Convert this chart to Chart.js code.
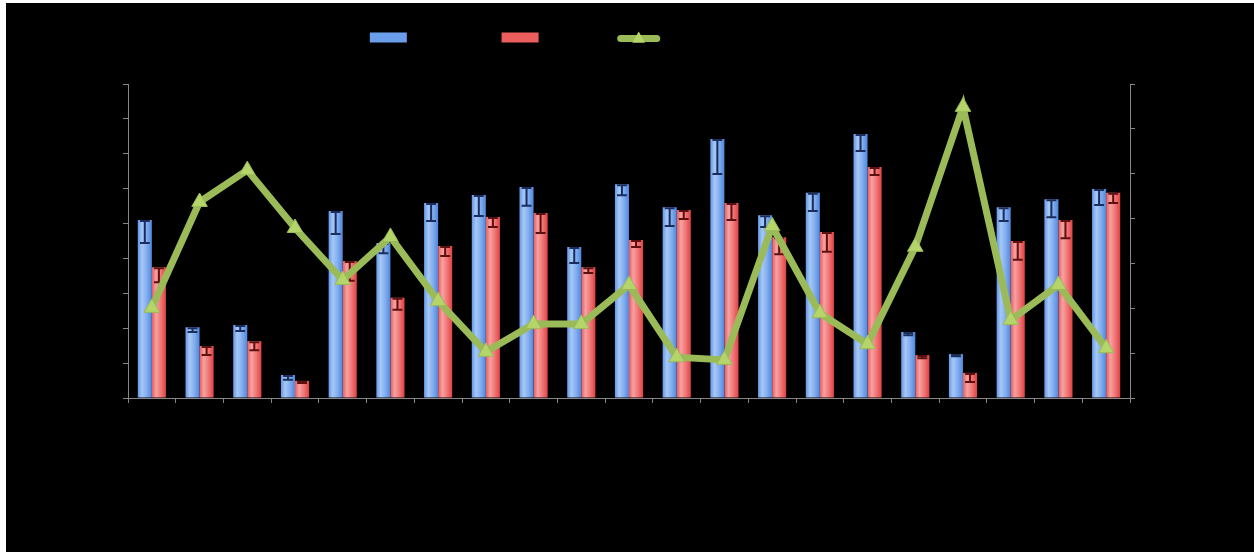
<!DOCTYPE html>
<html><head><meta charset="utf-8">
<script src="https://cdn.jsdelivr.net/npm/chart.js@4.4.1/dist/chart.umd.min.js"></script>
<style>
html,body{margin:0;padding:0;background:#fff;width:1254px;height:552px;overflow:hidden}
#wrap{position:absolute;left:6px;top:3px;width:1248px;height:549px;background:#000}
</style></head><body>
<div id="wrap"><canvas id="c"></canvas></div>
<script>
const categories = ['1','2','3','4','5','6','7','8','9','10','11','12','13','14','15','16','17','18','19','20','21'];
const seriesNames = ['Observed A', 'Expected', 'Ratio of observed to expected'];
const blueValues = [51.0,20.3,20.9,6.6,53.6,44.4,55.9,58.2,60.5,43.3,61.3,54.7,74.2,52.4,58.8,75.7,18.9,12.6,54.7,57.0,59.9];
const blueErrors = [6.6,1.4,1.7,1.4,6.6,2.9,5.2,6.0,5.4,4.6,3.2,5.4,10.0,3.4,5.2,4.9,0.9,0.6,4.0,5.2,4.6];
const redValues  = [37.5,14.9,16.3,4.9,39.3,28.7,43.6,51.9,53.0,37.5,45.3,53.9,55.9,46.1,47.6,66.2,12.3,7.2,45.0,51.0,58.8];
const redErrors  = [4.3,2.6,2.6,0.6,5.7,3.4,2.9,2.9,5.7,1.7,2.0,2.6,4.9,4.9,5.7,2.3,0.9,2.6,5.4,5.2,2.9];
const lineValues = [20.1,43.7,50.8,37.9,26.3,35.9,21.6,10.3,16.5,16.5,25.2,9.1,8.5,38.3,18.9,12.0,33.7,64.9,17.4,25.2,11.1];

const CAT_PCT = 0.59;
const AXIS = '#868686';
const BLUE_STOPS = [[0,'#6398e6'],[0.3,'#a6c8f6'],[0.65,'#80acee'],[1,'#4f86dc']];
const RED_STOPS  = [[0,'#ea5858'],[0.3,'#f6a2a2'],[0.65,'#f07474'],[1,'#e04242']];
const GREEN = '#9bbb59';
const GREEN_FILL = '#b5d56a';

function barFill(stops, fallback) {
  return function (ctx) {
    const chart = ctx.chart;
    const xs = chart.scales.x;
    if (ctx.type !== 'data' || !chart.chartArea || !xs) return fallback;
    const catW = xs.width / categories.length;
    const bw = catW * CAT_PCT / 2;
    const c = xs.getPixelForValue(ctx.dataIndex);
    const left = ctx.datasetIndex === 1 ? c - bw : c;
    const g = chart.ctx.createLinearGradient(left, 0, left + bw, 0);
    stops.forEach(s => g.addColorStop(s[0], s[1]));
    return g;
  };
}

const errorBars = {
  id: 'errorBars',
  afterDatasetDraw(chart, args) {
    const idx = args.index;
    if (idx !== 1 && idx !== 2) return;
    const errs = idx === 1 ? blueErrors : redErrors;
    const vals = idx === 1 ? blueValues : redValues;
    const color = idx === 1 ? '#1b2d5c' : '#5c1010';
    const ys = chart.scales.y;
    const c = chart.ctx;
    c.save();
    c.strokeStyle = color;
    c.lineWidth = 2;
    args.meta.data.forEach((el, i) => {
      const top = ys.getPixelForValue(vals[i]);
      const bot = ys.getPixelForValue(vals[i] - errs[i]);
      const half = el.width * 0.35;
      c.beginPath();
      c.moveTo(el.x, top); c.lineTo(el.x, bot);
      c.moveTo(el.x - half, top + 1); c.lineTo(el.x + half, top + 1);
      c.moveTo(el.x - half, bot); c.lineTo(el.x + half, bot);
      c.stroke();
    });
    c.restore();
  }
};

const legendGap = {
  id: 'legendGap',
  beforeInit(chart) {
    const orig = chart.legend.fit;
    chart.legend.fit = function () { orig.call(this); this.height += 30; };
  }
};

const legendLine = {
  id: 'legendLine',
  afterDraw(chart) {
    const lg = chart.legend;
    if (!lg || !lg.legendHitBoxes || lg.legendHitBoxes.length < 3) return;
    const hb = lg.legendHitBoxes[2];
    const c = chart.ctx;
    const cy = hb.top + hb.height / 2 + 1;
    const x0 = hb.left + 3, x1 = hb.left + 42 - 3;
    c.save();
    c.strokeStyle = GREEN; c.lineWidth = 7; c.lineCap = 'round';
    c.beginPath(); c.moveTo(x0, cy); c.lineTo(x1, cy); c.stroke();
    const cx = hb.left + 21, r = 7;
    c.fillStyle = GREEN_FILL;
    c.beginPath();
    c.moveTo(cx, cy - r); c.lineTo(cx + r * 0.9, cy + r * 0.6); c.lineTo(cx - r * 0.9, cy + r * 0.6);
    c.closePath(); c.fill();
    c.restore();
  }
};

// Dataset indices: 0 = line (drawn on top via order), 1 = blue bars, 2 = red bars
new Chart(document.getElementById('c'), {
  type: 'bar',
  data: {
    labels: categories,
    datasets: [
      {
        type: 'line', label: seriesNames[2], data: lineValues, yAxisID: 'y1', order: 0,
        borderColor: GREEN, borderWidth: 7, borderJoinStyle: 'miter', tension: 0,
        pointStyle: 'triangle', pointRadius: 9, pointBackgroundColor: GREEN_FILL,
        pointBorderColor: GREEN, pointBorderWidth: 1, fill: false
      },
      {
        label: seriesNames[0], data: blueValues, yAxisID: 'y', order: 1,
        backgroundColor: barFill(BLUE_STOPS, '#6a9be6'), borderWidth: 0,
        categoryPercentage: CAT_PCT, barPercentage: 1
      },
      {
        label: seriesNames[1], data: redValues, yAxisID: 'y', order: 1,
        backgroundColor: barFill(RED_STOPS, '#ea6262'), borderWidth: 0,
        categoryPercentage: CAT_PCT, barPercentage: 1
      }
    ]
  },
  options: {
    responsive: true, maintainAspectRatio: false, animation: false,
    layout: { padding: { left: 117, right: 119, top: 18, bottom: 149 } },
    plugins: {
      tooltip: { enabled: false },
      legend: {
        position: 'top',
        labels: {
          color: '#000', boxWidth: 37, boxHeight: 10, padding: 10,
          font: { family: 'DejaVu Sans Mono', size: 13 },
          generateLabels(chart) {
            return [
              { text: seriesNames[0], fillStyle: '#6a9eea', strokeStyle: '#6a9eea', lineWidth: 0, datasetIndex: 1, fontColor: '#000' },
              { text: seriesNames[1], fillStyle: '#ec5e5e', strokeStyle: '#ec5e5e', lineWidth: 0, datasetIndex: 2, fontColor: '#000' },
              { text: seriesNames[2], fillStyle: 'rgba(0,0,0,0)', strokeStyle: 'rgba(0,0,0,0)', lineWidth: 0, datasetIndex: 0, fontColor: '#000' }
            ];
          }
        }
      }
    },
    scales: {
      x: {
        type: 'category', offset: true,
        grid: { offset: true, drawOnChartArea: false, color: AXIS, tickLength: 5 },
        border: { color: AXIS, width: 1 },
        ticks: { display: false }
      },
      y: {
        position: 'left', min: 0, max: 90,
        grid: { drawOnChartArea: false, color: AXIS, tickLength: 5 },
        border: { color: AXIS, width: 1 },
        ticks: { display: false, stepSize: 10 }
      },
      y1: {
        position: 'right', min: 0, max: 70,
        grid: { drawOnChartArea: false, color: AXIS, tickLength: 5 },
        border: { color: AXIS, width: 1 },
        ticks: { display: false, stepSize: 10 }
      }
    }
  },
  plugins: [errorBars, legendGap, legendLine]
});
</script>
</body></html>
